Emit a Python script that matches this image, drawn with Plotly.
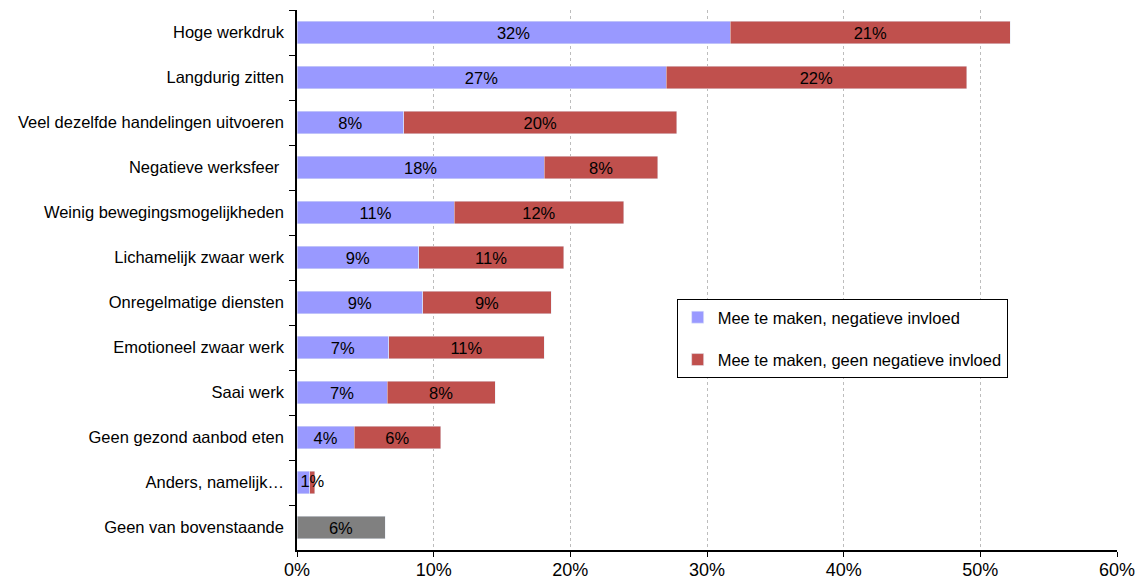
import plotly.graph_objects as go

categories = ["Hoge werkdruk", "Langdurig zitten", "Veel dezelfde handelingen uitvoeren",
              "Negatieve werksfeer ", "Weinig bewegingsmogelijkheden", "Lichamelijk zwaar werk",
              "Onregelmatige diensten", "Emotioneel zwaar werk", "Saai werk",
              "Geen gezond aanbod eten", "Anders, namelijk…", "Geen van bovenstaande"]
negatief = [31.7, 27.0, 7.8, 18.1, 11.5, 8.9, 9.2, 6.7, 6.6, 4.2, 0.95, None]
geen_negatief = [20.5, 22.0, 20.0, 8.3, 12.4, 10.6, 9.4, 11.4, 7.9, 6.3, 0.35, None]
geen_van = [None] * 11 + [6.44]
neg_labels = ["32%", "27%", "8%", "18%", "11%", "9%", "9%", "7%", "7%", "4%", "", ""]
geen_neg_labels = ["21%", "22%", "20%", "8%", "12%", "11%", "9%", "11%", "8%", "6%", "", ""]
geen_van_labels = [""] * 11 + ["6%"]
anders_label = "1%"

FONT = "Liberation Sans, Arial, sans-serif"
fs = 16.5

fig = go.Figure()
fig.add_trace(go.Bar(y=categories, x=negatief, orientation="h", name="Mee te maken, negatieve invloed",
                     marker_color="#9999FF", text=neg_labels, textposition="inside",
                     insidetextanchor="middle", constraintext="none",
                     textfont=dict(color="black", size=fs, family=FONT),
                     legendgroup="a"))
fig.add_trace(go.Bar(y=categories, x=geen_negatief, orientation="h",
                     name="Mee te maken, geen negatieve invloed",
                     marker_color="#C0504D", text=geen_neg_labels, textposition="inside",
                     insidetextanchor="middle", constraintext="none",
                     textfont=dict(color="black", size=fs, family=FONT),
                     legendgroup="b"))
fig.add_trace(go.Bar(y=categories, x=geen_van, orientation="h", name="Geen van bovenstaande",
                     marker_color="#808080", text=geen_van_labels, textposition="inside",
                     insidetextanchor="middle", constraintext="none",
                     textfont=dict(color="black", size=fs, family=FONT),
                     showlegend=False))
# label for 'Anders' row, centred on the red segment
idx = 10
fig.add_trace(go.Scatter(y=[categories[idx]], x=[negatief[idx] + geen_negatief[idx] / 2],
                         mode="text", text=[anders_label],
                         textfont=dict(color="black", size=fs, family=FONT),
                         showlegend=False, hoverinfo="skip"))

fig.update_layout(
    barmode="stack",
    bargap=0.51,
    width=1138, height=583,
    margin=dict(l=297, r=21, t=10, b=33, autoexpand=False),
    plot_bgcolor="white", paper_bgcolor="white",
    font=dict(family=FONT, size=fs, color="black"),
    legend=dict(x=0.463, y=0.465, xanchor="left", yanchor="top",
                bordercolor="black", borderwidth=1, bgcolor="white",
                font=dict(size=fs, family=FONT), traceorder="grouped",
                tracegroupgap=18),
)
fig.update_xaxes(range=[0, 60], dtick=10, ticksuffix="%", showgrid=True,
                 gridcolor="#BDBDBD", griddash="dot", gridwidth=1,
                 showline=True, linecolor="black", linewidth=1.5,
                 ticks="outside", ticklen=5, tickcolor="black", automargin=False,
                 ticklabelstandoff=-2,
                 tickfont=dict(size=18, family=FONT), zeroline=False)
fig.update_yaxes(autorange="reversed", showline=True, linecolor="black", linewidth=1.5,
                 ticks="outside", ticklen=6, tickcolor="black", tickson="boundaries",
                 automargin=False,
                 ticklabelstandoff=8, tickfont=dict(size=fs, family=FONT), showgrid=False)

fig.write_html("out.html")
